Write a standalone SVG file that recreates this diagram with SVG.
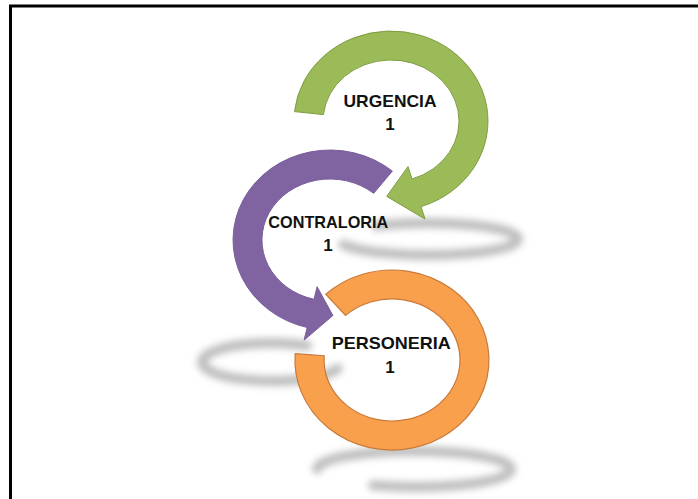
<svg xmlns="http://www.w3.org/2000/svg" width="698" height="499" viewBox="0 0 698 499">
  <defs>
    <filter id="blur" x="-20%" y="-60%" width="140%" height="220%">
      <feGaussianBlur stdDeviation="3.5"/>
    </filter>
    <style>
      .shadow { fill: none; stroke: #bebebe; stroke-width: 10; stroke-linecap: round; filter: url(#blur); }
      .lbl { font-family: "Liberation Sans", Arial, sans-serif; font-weight: bold; font-size: 17px; fill: #111; text-anchor: middle; }
      .green { fill: #9BBB59; stroke: #7E9C41; stroke-width: 1; }
      .purple { fill: #8064A2; stroke: #7A5E9C; stroke-width: 1; }
      .orange { fill: #F9A04C; stroke: #C8793A; stroke-width: 1.2; }
    </style>
  </defs>
  <rect width="698" height="499" fill="#fff"/>
  <path d="M10.5 499 V6 H698" fill="none" stroke="#000" stroke-width="3"/>

  <g id="shadows">
    <path class="shadow" d="M376.4 225.9 A90 16 0 1 1 343.4 244.5"/>
    <path class="shadow" d="M307 345.5 A70 19 0 1 0 337.8 368.5"/>
    <path class="shadow" d="M317 469 A97 18 0 1 1 373 485.3"/>
  </g>

  <g id="connectors">
  </g>

  <g id="urgencia">
    <path class="green" d="M294.5 111.6 A97 90 0 1 1 421 206.6 L425 219 L386.7 196.4 L408 166.6 L412 179 A68 61 0 1 0 323.4 114.6 Z"/>
    <text class="lbl" x="390" y="106.5" textLength="93" lengthAdjust="spacingAndGlyphs">URGENCIA</text>
    <text class="lbl" x="390" y="129.5">1</text>
  </g>

  <g id="contraloria">
    <path class="purple" d="M392.4 171.1 A97 90 0 1 0 307.2 327.5 L304.1 340.1 L332.9 315.5 L317.1 286.7 L314 299.3 A68 61 0 1 1 373.7 193.3 Z"/>
    <text class="lbl" x="328.3" y="228.3" textLength="120" lengthAdjust="spacingAndGlyphs">CONTRALORIA</text>
    <text class="lbl" x="328" y="251">1</text>
  </g>

  <g id="personeria">
    <path class="orange" d="M325.8 294.2 A97 90 0 1 1 295.2 353.7 L324.2 355.7 A68 61 0 1 0 345.6 315.4 Z"/>
    <text class="lbl" x="391.2" y="349.3" textLength="119" lengthAdjust="spacingAndGlyphs">PERSONERIA</text>
    <text class="lbl" x="390" y="373.3">1</text>
  </g>
</svg>
